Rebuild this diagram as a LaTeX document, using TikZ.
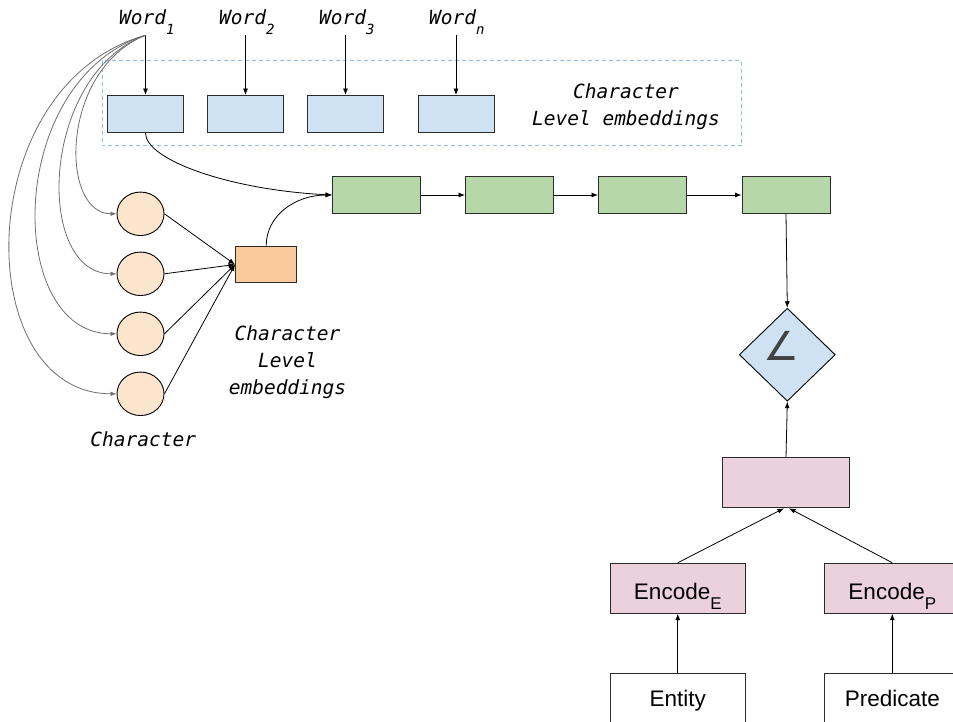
\documentclass[tikz,border=0pt]{standalone}
\usepackage{fontspec}
\setmainfont{Liberation Sans}
\newfontfamily\codefont{DejaVu Sans Mono}
\newfontfamily\symfont{DejaVu Sans}
\usetikzlibrary{arrows.meta,shapes.geometric}

\definecolor{embblue}{HTML}{CFE2F3}
\definecolor{lstmgreen}{HTML}{B6D7A8}
\definecolor{charorange}{HTML}{F9CB9C}
\definecolor{charpeach}{HTML}{FCE5CD}
\definecolor{encpink}{HTML}{EAD1DC}
\definecolor{dashblue}{HTML}{8DBDEB}
\definecolor{edgegray}{HTML}{6E6E6E}
\definecolor{boxline}{HTML}{2B2B2B}
\definecolor{glyphgray}{HTML}{434343}

% lowered index after a word (monospace labels and encoder names)
\newcommand{\wordsub}[1]{\raisebox{-10pt}{\fontsize{14}{14}\selectfont #1}}
\newcommand{\encsub}[1]{\raisebox{-10.7pt}{\fontsize{17}{17}\selectfont #1}}

\begin{document}
\begin{tikzpicture}[x=1pt,y=-1pt,
  box/.style={rectangle, draw=boxline, line width=0.9pt, inner sep=0pt},
  embbox/.style={box, fill=embblue, minimum width=76pt, minimum height=37pt},
  lstm/.style={box, fill=lstmgreen, minimum width=88pt, minimum height=37pt},
  encbox/.style={box, fill=encpink, minimum width=134.8pt, minimum height=50pt,
    font=\fontsize{22.5}{27}\selectfont, text height=22pt, text depth=0pt},
  inbox/.style={box, fill=white, minimum width=134.8pt, minimum height=50pt,
    font=\fontsize{22.5}{27}\selectfont, text height=17pt, text depth=0pt},
  charnode/.style={ellipse, draw=black, line width=0.9pt, fill=charpeach,
    minimum width=47pt, minimum height=43.5pt, inner sep=0pt},
  monolabel/.style={font=\codefont\itshape\fontsize{19.5}{27}\selectfont,
    inner sep=0pt, align=center},
  arr/.style={draw=black, line width=0.8pt, -{Latex[length=6.5pt,width=5pt]}},
  fan/.style={draw=edgegray, line width=0.8pt, -{Latex[length=6pt,width=4.5pt]}}]

\useasboundingbox (0,0) rectangle (953,722);

% word inputs
\node[monolabel, anchor=base west] (w1) at (119,25) {Word\wordsub{1}};
\node[monolabel, anchor=base west] (w2) at (219,25) {Word\wordsub{2}};
\node[monolabel, anchor=base west] (w3) at (319,25) {Word\wordsub{3}};
\node[monolabel, anchor=base west] (w4) at (429,25) {Word\wordsub{n}};

% word-level embedding group
\draw[dashblue, line width=1pt, dash pattern=on 4pt off 3pt] (102,61) rectangle (741.7,146);
\node[embbox] (b1) at (145.5,114) {};
\node[embbox] (b2) at (245.5,114) {};
\node[embbox] (b3) at (345.5,114) {};
\node[embbox] (b4) at (456,114) {};
\node[monolabel] (grouplbl) at (626,106.4) {Character\\Level embeddings};

\foreach \i in {1,2,3,4}
  \draw[arr] (b\i.north |- w\i.south) -- (b\i.north);

% sequence encoder
\node[lstm] (g1) at (376.5,195) {};
\node[lstm] (g2) at (509.5,195) {};
\node[lstm] (g3) at (642.5,195) {};
\node[lstm] (g4) at (786,195) {};
\draw[arr] (g1.east) -- (g2.west);
\draw[arr] (g2.east) -- (g3.west);
\draw[arr] (g3.east) -- (g4.west);

% characters
\node[charnode] (c1) at (140.5,213.8) {};
\node[charnode] (c2) at (140.5,273.8) {};
\node[charnode] (c3) at (140.5,333.8) {};
\node[charnode] (c4) at (140.5,393.8) {};
\node[monolabel, anchor=base] (charlbl) at (143.3,446) {Character};

\node[box, fill=charorange, minimum width=61.4pt, minimum height=36.7pt] (o) at (266.2,264.5) {};
\node[monolabel] (charemb) at (287.5,362.6) {Character\\Level\\embeddings};

\foreach \i in {1,2,3,4}
  \draw[arr] (c\i.east) -- (o.west);

% word split into characters
\draw[fan] (b1.north |- w1.south) .. controls +(-86,35) and +(-57,0) .. (c1.west);
\draw[fan] (b1.north |- w1.south) .. controls +(-106,40) and +(-82,0) .. (c2.west);
\draw[fan] (b1.north |- w1.south) .. controls +(-141,45) and +(-112,0) .. (c3.west);
\draw[fan] (b1.north |- w1.south) .. controls +(-176,50) and +(-147,0) .. (c4.west);

% both embeddings feed the encoder
\draw[arr] (b1.south) .. controls +(0,27) and +(-102,-5) .. (g1.west);
\draw[arr] (o.north) .. controls +(0,-30) and +(-37,0) .. (g1.west);

% similarity
\node[diamond, draw=black, fill=embblue, line width=0.9pt,
  minimum width=96pt, minimum height=93pt, inner sep=0pt] (dm) at (787.3,354.7) {};
\node[text=glyphgray, font=\symfont\fontsize{40}{40}\selectfont, inner sep=0pt] (ang) at (781.5,345.5) {∠};

\node[box, fill=encpink, minimum width=126.5pt, minimum height=50pt] (pk) at (786,482.8) {};
\node[encbox] (ee) at (677.8,588.2) {Encode\encsub{E}};
\node[encbox] (ep) at (892.3,588.2) {Encode\encsub{P}};
\node[inbox] (ent) at (677.8,698.2) {Entity};
\node[inbox] (pred) at (892.3,698.2) {Predicate};

\draw[arr] (g4.south) -- (dm.north);
\draw[arr] (pk.north) -- (dm.south);
\draw[arr] (ee.north) -- ([xshift=-2pt]pk.south);
\draw[arr] (ep.north) -- ([xshift=3pt]pk.south);
\draw[arr] (ent.north) -- (ee.south);
\draw[arr] (pred.north) -- (ep.south);

\end{tikzpicture}
\end{document}
